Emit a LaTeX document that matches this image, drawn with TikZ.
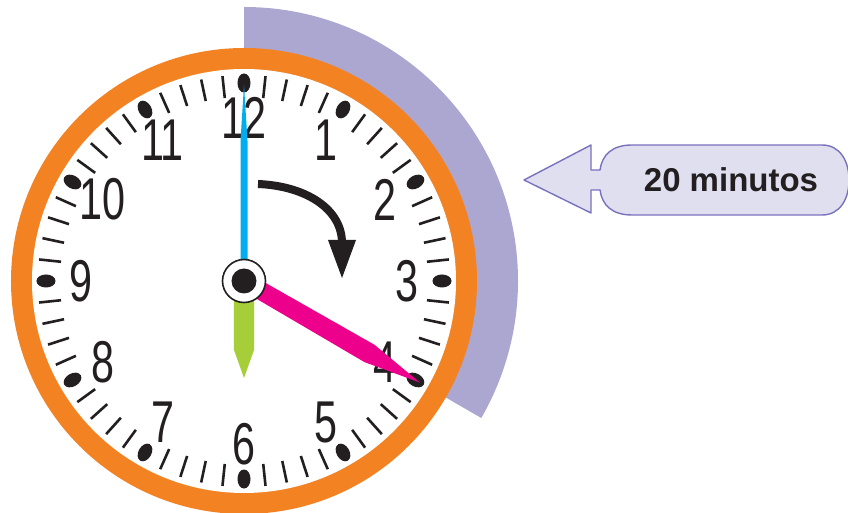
\documentclass[tikz,border=0pt]{standalone}
\usepackage{fontspec}
\setmainfont{Liberation Sans}
\newfontfamily\dialfont[FakeStretch=0.7]{Liberation Sans}
\usetikzlibrary{positioning}
\definecolor{ink}{RGB}{35,31,32}
\definecolor{rim}{RGB}{243,130,35}
\definecolor{sweep}{RGB}{172,167,209}
\definecolor{minblue}{RGB}{0,174,239}
\definecolor{hourpink}{RGB}{236,0,140}
\definecolor{secgreen}{RGB}{166,206,57}
\definecolor{tagfill}{RGB}{224,223,240}
\definecolor{tagline}{RGB}{120,114,190}
\tikzset{
  num/.style={font=\fontsize{59}{59}\selectfont\dialfont, text=ink, inner sep=0pt},
  mtick/.style={draw=ink, line width=2.6pt},
  hdot/.style={fill=ink},
  tag/.style={fill=tagfill, draw=tagline, line width=1.4pt, line join=round},
  tagtext/.style={font=\fontsize{33}{33}\selectfont\bfseries, text=ink, inner sep=0pt},
  hub/.style={circle, fill=white, draw=ink, line width=1.6pt, minimum size=43pt, inner sep=0pt},
  pin/.style={circle, fill=ink, minimum size=25pt, inner sep=0pt},
}

\begin{document}
\begin{tikzpicture}[x=1pt, y=1pt]
  \useasboundingbox (-244,-232) rectangle (604,281);
  % 20 minute sweep
  \fill[sweep] (0,0) -- (90:274) arc[start angle=90, end angle=-30, radius=274] -- cycle;
  % dial
  \fill[rim] (0,0) circle (233);
  \fill[white] (0,0) circle (212);
  \foreach \i in {0,...,59}{
    \pgfmathtruncatemacro{\r}{mod(\i,5)}
    \ifnum\r=0\else
      \draw[mtick] (\i*6:184) -- (\i*6:206);
    \fi
  }
  \foreach \a in {0,30,...,330}
    \fill[hdot, rotate=\a] (198,0) ellipse [x radius=9.5, y radius=6.5];
  \foreach \n in {1,...,12}
    \node[num] (h\n) at ({90-30*\n}:163) {\n};
  % turning arrow
  \draw[ink, line width=8pt] (14,97) .. controls (62,95) and (98,72) .. (98,38);
  \fill[ink] (84,41) -- (112,41) -- (98,3) -- cycle;
  % hands
  \fill[minblue] (-3.5,0) -- (-3.5,140) -- (0,196) -- (3.5,140) -- (3.5,0) -- cycle;
  \fill[secgreen] (-10,0) -- (-10,-69) -- (0,-97) -- (10,-69) -- (10,0) -- cycle;
  \fill[hourpink, rotate=-30] (0,-9) -- (145,-10) -- (203,0) -- (145,10) -- (0,9) -- cycle;
  \node[hub] (center) at (0,0) {};
  \node[pin] at (center) {};
  % callout
  \draw[tag] (280,101) -- (347,136) -- (347,111) -- (356,111)
    .. controls (358,126) and (368,136) .. (388,136) -- (578,136)
    .. controls (596,136) and (605,120) .. (605,101)
    .. controls (605,82) and (596,66) .. (578,66) -- (388,66)
    .. controls (368,66) and (358,76) .. (356,91) -- (347,91) -- (347,68) -- cycle;
  \node[tagtext] (tag) at (487,101) {20 minutos};
\end{tikzpicture}
\end{document}
